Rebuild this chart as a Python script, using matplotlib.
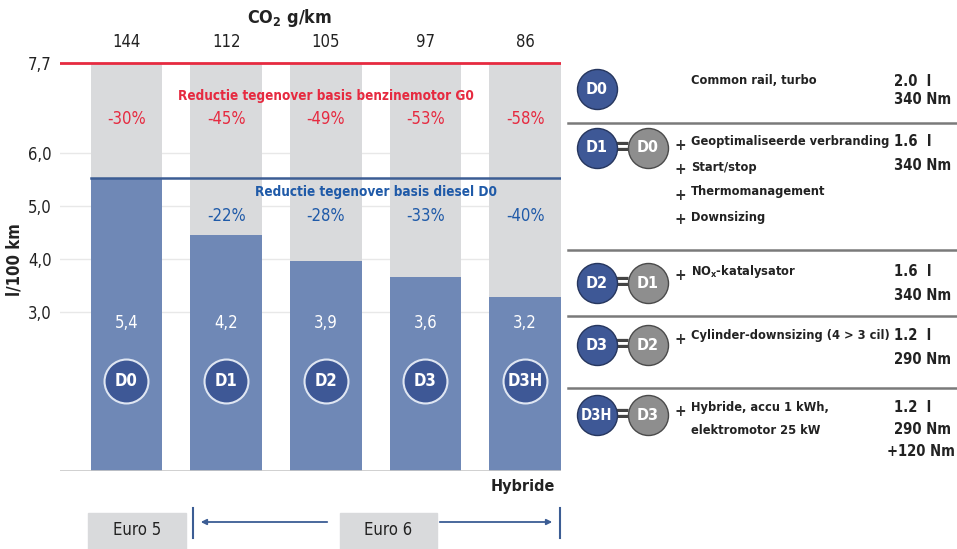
import matplotlib
matplotlib.use('Agg')
import matplotlib.pyplot as plt
from matplotlib import font_manager
from matplotlib.patches import Rectangle

# data
varianten = ['D0', 'D1', 'D2', 'D3', 'D3H']
verbruik_label = ['5,4', '4,2', '3,9', '3,6', '3,2']
balk_hoogte = [5.53, 4.45, 3.96, 3.66, 3.28]   # zoals getekend in de figuur
co2 = [144, 112, 105, 97, 86]
basis_benzine = 7.7
basis_diesel = 5.53
reductie_g0 = ['-30%', '-45%', '-49%', '-53%', '-58%']
reductie_d0 = ['', '-22%', '-28%', '-33%', '-40%']
y_ticks = [3.0, 4.0, 5.0, 6.0, 7.7]
y_tick_labels = ['3,0', '4,0', '5,0', '6,0', '7,7']

# tabel rechts
rijen = [
    ('D0', None, ['Common rail, turbo'], ['2.0  l', '340 Nm']),
    ('D1', 'D0', ['Geoptimaliseerde verbranding', 'Start/stop', 'Thermomanagement', 'Downsizing'], ['1.6  l', '340 Nm']),
    ('D2', 'D1', [r'NO$_\mathregular{x}$-katalysator'], ['1.6  l', '340 Nm']),
    ('D3', 'D2', ['Cylinder-downsizing (4 > 3 cil)'], ['1.2  l', '290 Nm']),
    ('D3H', 'D3', ['Hybride, accu 1 kWh,', 'elektromotor 25 kW'], ['1.2  l', '290 Nm', '+120 Nm']),
]

# smal lettertype zoeken
bestanden = [f.fname for f in font_manager.fontManager.ttflist]
if any('LiberationSansNarrow' in f for f in bestanden):
    FONT, STRETCH, K = 'Liberation Sans Narrow', 'normal', 1.0
elif any('DejaVuSansCondensed' in f for f in bestanden):
    FONT, STRETCH, K = 'DejaVu Sans', 'condensed', 0.92
else:
    FONT, STRETCH, K = 'Roboto', 'normal', 0.86
plt.rcParams['font.family'] = [FONT, 'DejaVu Sans']
plt.rcParams['font.stretch'] = STRETCH


def fs(v):
    return v * K


BLAUW = '#6f88b6'
GRIJS = '#d9dadc'
DONKER = '#3e5896'
ROOD = '#e62a40'
TBLAUW = '#1f5aa8'
LIJN_BLAUW = '#3c5d94'
ZWART = '#222222'

W, H = 957, 549
fig = plt.figure(figsize=(W / 100, H / 100), dpi=100)

# hoofdgrafiek: y=0 op pixel 471, 53 px per eenheid
y0_px, schaal = 471, 53.0
ytop = (y0_px - 30) / schaal
ax = fig.add_axes([60 / W, (H - y0_px) / H, 501 / W, (y0_px - 30) / H])
x = list(range(len(varianten)))
ax.set_xlim(-0.667, 4.36)
ax.set_ylim(0, ytop)

for v in [3.0, 4.0, 5.0, 6.0]:
    ax.axhline(v, color='#e8e8e8', lw=1, zorder=0)

ax.bar(x, [basis_benzine] * len(x), width=0.72, color=GRIJS, zorder=1)
ax.bar(x, balk_hoogte, width=0.72, color=BLAUW, zorder=2)
ax.axhline(basis_benzine, color=ROOD, lw=2, zorder=3)
ax.plot([-0.36, 4.36], [basis_diesel, basis_diesel], color=LIJN_BLAUW, lw=1.8, zorder=3)
ax.axhline(0, color='#c8c8c8', lw=1.2, zorder=3)

for i in x:
    ax.text(i, 8.09, str(co2[i]), ha='center', va='center', fontsize=fs(13), color=ZWART, clip_on=False)
    ax.text(i, 6.64, reductie_g0[i], ha='center', va='center', fontsize=fs(13), color=ROOD, zorder=4)
    if reductie_d0[i]:
        ax.text(i, 4.81, reductie_d0[i], ha='center', va='center', fontsize=fs(13), color=TBLAUW, zorder=4)
    ax.text(i, 2.79, verbruik_label[i], ha='center', va='center', fontsize=fs(13), color='white', zorder=4)
    ax.text(i, 1.70, varianten[i], ha='center', va='center', fontsize=fs(13), color='white',
            fontweight='bold', zorder=6)
ax.scatter(x, [1.70] * len(x), s=1000, color=DONKER, edgecolor='#dfe6f2', linewidth=1.5, zorder=5)

ax.text(2.0, 7.08, 'Reductie tegenover basis benzinemotor G0', ha='center', va='center',
        fontsize=fs(10.6), color=ROOD, fontweight='bold', zorder=4)
ax.text(2.5, 5.26, 'Reductie tegenover basis diesel D0', ha='center', va='center',
        fontsize=fs(10.6), color=TBLAUW, fontweight='bold', zorder=4)
ax.text(1.64, 8.55, r'CO$_\mathregular{2}$ g/km', ha='center', va='center', fontsize=fs(14),
        fontweight='bold', color=ZWART, clip_on=False)

ax.set_yticks(y_ticks)
ax.set_yticklabels(y_tick_labels, fontsize=fs(13), color=ZWART)
ax.tick_params(axis='y', length=0, pad=6)
ax.set_xticks([])
for s in ax.spines.values():
    s.set_visible(False)
ax.set_ylabel('l/100 km', fontsize=fs(13), fontweight='bold', color=ZWART)
ax.yaxis.set_label_coords(-0.073, 0.48)

# overlay in pixels voor tabel en onderschrift
ov = fig.add_axes([0, 0, 1, 1], zorder=10)
ov.set_xlim(0, W)
ov.set_ylim(H, 0)
ov.axis('off')

ov.text(523, 486, 'Hybride', ha='center', va='center', fontsize=fs(12.5), fontweight='bold', color=ZWART)

ov.add_patch(Rectangle((88, 513), 98, 40, color=GRIJS))
ov.text(137, 530, 'Euro 5', ha='center', va='center', fontsize=fs(13), color=ZWART)
ov.add_patch(Rectangle((340, 513), 97, 40, color=GRIJS))
ov.text(388, 530, 'Euro 6', ha='center', va='center', fontsize=fs(13), color=ZWART)
ov.plot([193, 193], [508, 538], color=LIJN_BLAUW, lw=1.5)
ov.plot([560, 560], [508, 538], color=LIJN_BLAUW, lw=1.5)
ov.annotate('', xy=(198, 522), xytext=(330, 522),
            arrowprops=dict(arrowstyle='-|>', color=LIJN_BLAUW, lw=1.3, mutation_scale=8))
ov.annotate('', xy=(555, 522), xytext=(437, 522),
            arrowprops=dict(arrowstyle='-|>', color=LIJN_BLAUW, lw=1.3, mutation_scale=8))

# tabel
rij_y = [89, 148, 283, 345, 415]
tekst_y = [81, 142, 272, 336, 408]
for y in [123, 250, 316, 388]:
    ov.plot([568, W], [y, y], color='#7a7a7a', lw=1.8)

for (naam, basis, regels, specs), cy, ty in zip(rijen, rij_y, tekst_y):
    ov.scatter([597], [cy], s=830, color=DONKER, edgecolor='#26365e', linewidth=1, zorder=5)
    ov.text(597, cy, naam, ha='center', va='center', fontsize=fs(12.5 if naam != 'D3H' else 11.5),
            color='white', fontweight='bold', zorder=6)
    if basis:
        ov.text(621, cy, '=', ha='center', va='center', fontsize=18, fontweight='bold', color='#444444')
        ov.scatter([648], [cy], s=830, color='#8e8e8e', edgecolor='#4a4a4a', linewidth=1, zorder=5)
        ov.text(648, cy, basis, ha='center', va='center', fontsize=fs(12.5), color='white',
                fontweight='bold', zorder=6)
    stap = 25 if naam == 'D1' else 22
    for k, regel in enumerate(regels):
        yy = ty + k * stap
        if basis and (naam == 'D1' or k == 0):
            ov.text(680, yy + 3, '+', ha='center', va='center', fontsize=11, fontweight='bold', color='#333333')
        ov.text(691, yy, regel, ha='left', va='center', fontsize=fs(10.0), fontweight='bold', color=ZWART)
    for k, sp in enumerate(specs):
        yy = ty + k * (19 if naam == 'D0' else 24 if naam != 'D3H' else 22)
        if sp.startswith('+'):
            ov.text(955, yy, sp, ha='right', va='center', fontsize=fs(11.5), fontweight='bold', color=ZWART)
        else:
            ov.text(894, yy, sp, ha='left', va='center', fontsize=fs(11.5), fontweight='bold', color=ZWART)

fig.savefig('out.png', dpi=100)
